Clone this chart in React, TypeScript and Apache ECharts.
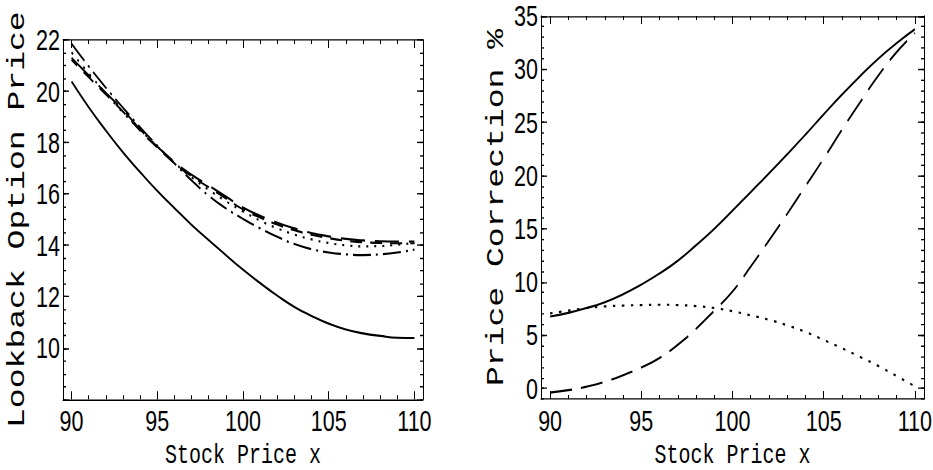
import React, { useEffect, useRef } from "react";
import * as echarts from "echarts";

// ---------- data ----------
const stockPrice = [90, 91, 92, 93, 94, 95, 96, 97, 98, 99, 100, 101, 102, 103, 104, 105, 106, 107, 108, 109, 110];

// Left panel: lookback option prices
const lookbackBase = [20.38, 19.38, 18.47, 17.62, 16.85, 16.12, 15.45, 14.8, 14.2, 13.62, 13.05, 12.53, 12.04, 11.6, 11.25, 10.95, 10.72, 10.57, 10.47, 10.4, 10.39];
const lookbackLongDash = [21.3, 20.62, 19.94, 19.27, 18.52, 17.84, 17.25, 16.75, 16.33, 15.9, 15.47, 15.15, 14.88, 14.66, 14.48, 14.35, 14.25, 14.19, 14.16, 14.15, 14.15];
const lookbackDash = [21.22, 20.55, 19.88, 19.21, 18.47, 17.81, 17.2, 16.69, 16.26, 15.83, 15.4, 15.08, 14.81, 14.59, 14.41, 14.28, 14.18, 14.12, 14.09, 14.08, 14.08];
const lookbackDotted = [21.52, 20.7, 19.92, 19.17, 18.5, 17.85, 17.22, 16.65, 16.16, 15.72, 15.32, 14.96, 14.66, 14.42, 14.23, 14.09, 14.0, 13.96, 13.97, 14.02, 14.09];
const lookbackDashDot = [21.85, 20.97, 20.14, 19.36, 18.6, 17.88, 17.19, 16.53, 15.93, 15.44, 15.03, 14.66, 14.33, 14.05, 13.85, 13.72, 13.65, 13.62, 13.65, 13.72, 13.83];

// Right panel: price correction %
const correctionSolid = [6.75, 7.1, 7.55, 8.1, 8.85, 9.75, 10.8, 12.0, 13.45, 15.0, 16.7, 18.45, 20.2, 22.0, 23.85, 25.75, 27.6, 29.35, 31.0, 32.45, 33.75];
const correctionDashed = [-0.4, -0.17, 0.16, 0.62, 1.23, 1.97, 2.85, 4.1, 5.6, 7.3, 9.1, 11.45, 13.9, 16.4, 19.0, 21.6, 24.3, 26.9, 29.4, 31.6, 33.4];
const correctionDotted = [7.05, 7.3, 7.55, 7.7, 7.78, 7.83, 7.86, 7.83, 7.73, 7.55, 7.25, 6.86, 6.45, 5.92, 5.3, 4.55, 3.78, 2.95, 2.1, 1.15, 0.2];

// tick labels
const xLabels = [90, 95, 100, 105, 110];
const leftYLabels = [10, 12, 14, 16, 18, 20, 22];
const rightYLabels = [0, 5, 10, 15, 20, 25, 30, 35];

// ---------- layout ----------
const STRETCH = 1.35;
const W = 933;
const H = 470 / STRETCH;

// frames (unstretched px)
const L = { left: 63, top: 29.6, width: 360, height: 266.2 };
const R = { left: 541, top: 11.85, width: 383, height: 283.7 };
const X_MIN = 89.5;
const X_MAX = 110.5;
const LY_MIN = 8;
const LY_MAX = 22;
const RY_MIN = -1;
const RY_MAX = 35;

// tick-only grids aligned so that tick counting starts on round values
const lPx = L.width / (X_MAX - X_MIN);
const rPx = R.width / (X_MAX - X_MIN);
const LTx = { left: L.left + (90 - X_MIN) * lPx, top: L.top, width: 20 * lPx, height: L.height };
const RTx = { left: R.left + (90 - X_MIN) * rPx, top: R.top, width: 20 * rPx, height: R.height };
const ryPx = R.height / (RY_MAX - RY_MIN);
const RTy = { left: R.left, top: R.top, width: R.width, height: 35 * ryPx };

const gridOf = (g: any) => ({ ...g, containLabel: false, outerBoundsMode: "none" });

const pairs = (ys: number[]) => stockPrice.map((x, i) => [x, ys[i]]);

const tickFont = { color: "#000", fontFamily: "Liberation Sans, Arial, sans-serif", fontSize: 21.5 };
const nameFont = { color: "#000", fontFamily: "Liberation Mono, Courier New, monospace" };
const black = { color: "#000", width: 1 };
const noSplit = { show: false };

function frameAxis(gridIndex: number, position: string, min: number, max: number, extra: any = {}) {
  return {
    type: "value",
    gridIndex,
    position,
    min,
    max,
    splitLine: noSplit,
    axisLine: { show: true, onZero: false, lineStyle: black },
    axisTick: { show: false },
    axisLabel: { show: false },
    ...extra,
  };
}

function tickAxis(gridIndex: number, position: string, min: number, max: number, interval: number, length: number) {
  return {
    type: "value",
    gridIndex,
    position,
    min,
    max,
    interval,
    splitLine: noSplit,
    axisLine: { show: false, onZero: false },
    axisTick: { show: true, inside: true, length, lineStyle: black },
    axisLabel: { show: false },
  };
}

const hidden = (gridIndex: number) => ({ type: "value", gridIndex, show: false, min: 0, max: 1 });

function line(data: number[], xIdx: number, yIdx: number, type: any, dashOffset = 0, width = 1.6) {
  return {
    type: "line",
    xAxisIndex: xIdx,
    yAxisIndex: yIdx,
    data: pairs(data),
    smooth: true,
    showSymbol: false,
    symbol: "none",
    lineStyle: { color: "#000", width, type, dashOffset, cap: "butt" },
    silent: true,
  };
}

export default function App() {
  const ref = useRef<HTMLDivElement>(null);

  useEffect(() => {
    if (!ref.current) return;
    const chart = echarts.init(ref.current, null, { renderer: "svg", width: W, height: H });

    const xName = {
      name: "Stock Price x",
      nameLocation: "middle",
      nameGap: 28.5,
      nameTextStyle: { ...nameFont, fontSize: 20, lineHeight: 18 },
    };
    const xLabelOpt = (vals: number[]) => ({ show: true, customValues: vals, margin: 5, ...tickFont });
    const yLabelOpt = (vals: number[]) => ({ show: true, customValues: vals, margin: 3, ...tickFont });

    const option: any = {
      animation: false,
      backgroundColor: "#fff",
      // 0: left frame, 1: left x-tick grid, 2: right frame, 3: right x-tick grid, 4: right y-tick grid
      grid: [L, LTx, R, RTx, RTy].map(gridOf),
      xAxis: [
        // 0 left frame bottom (labels + title)
        frameAxis(0, "bottom", X_MIN, X_MAX, { axisLabel: xLabelOpt(xLabels), ...xName }),
        // 1 left frame top
        frameAxis(0, "top", X_MIN, X_MAX),
        // 2-5 left x ticks
        tickAxis(1, "bottom", 90, 110, 1, 3),
        tickAxis(1, "bottom", 90, 110, 5, 6),
        tickAxis(1, "top", 90, 110, 1, 3),
        tickAxis(1, "top", 90, 110, 5, 6),
        // 6 right frame bottom
        frameAxis(2, "bottom", X_MIN, X_MAX, { axisLabel: xLabelOpt(xLabels), ...xName }),
        // 7 right frame top
        frameAxis(2, "top", X_MIN, X_MAX),
        // 8-11 right x ticks
        tickAxis(3, "bottom", 90, 110, 1, 3),
        tickAxis(3, "bottom", 90, 110, 5, 6),
        tickAxis(3, "top", 90, 110, 1, 3),
        tickAxis(3, "top", 90, 110, 5, 6),
        // 12 hidden for right y-tick grid
        hidden(4),
      ],
      yAxis: [
        // 0 left frame left (labels + title)
        frameAxis(0, "left", LY_MIN, LY_MAX, {
          axisLabel: yLabelOpt(leftYLabels),
          name: "Lookback Option Price",
          nameLocation: "middle",
          nameGap: 33,
          nameTextStyle: { ...nameFont, fontSize: 24.5 },
        }),
        // 1 left frame right
        frameAxis(0, "right", LY_MIN, LY_MAX),
        // 2-5 left y ticks (min 8 is a multiple of both intervals)
        tickAxis(0, "left", LY_MIN, LY_MAX, 0.5, 3),
        tickAxis(0, "left", LY_MIN, LY_MAX, 2, 6),
        tickAxis(0, "right", LY_MIN, LY_MAX, 0.5, 3),
        tickAxis(0, "right", LY_MIN, LY_MAX, 2, 6),
        // 6 hidden for left x-tick grid
        hidden(1),
        // 7 right frame left (labels + title)
        frameAxis(2, "left", RY_MIN, RY_MAX, {
          axisLabel: yLabelOpt(rightYLabels),
          name: "Price Correction %",
          nameLocation: "middle",
          nameGap: 32,
          nameTextStyle: { ...nameFont, fontSize: 24.5 },
        }),
        // 8 right frame right
        frameAxis(2, "right", RY_MIN, RY_MAX),
        // 9-10 right y minor ticks (min -1 is a multiple of 1)
        tickAxis(2, "left", RY_MIN, RY_MAX, 1, 3),
        tickAxis(2, "right", RY_MIN, RY_MAX, 1, 3),
        // 11 hidden for right x-tick grid
        hidden(3),
        // 12-13 right y major ticks on aligned grid 0..35
        tickAxis(4, "left", 0, 35, 5, 6),
        tickAxis(4, "right", 0, 35, 5, 6),
      ],
      series: [
        line(lookbackBase, 0, 0, "solid"),
        line(lookbackLongDash, 0, 0, [24, 10]),
        line(lookbackDash, 0, 0, [12, 8], 5),
        line(lookbackDotted, 0, 0, [2, 6]),
        line(lookbackDashDot, 0, 0, [18, 5, 2, 5]),
        line(correctionSolid, 6, 7, "solid"),
        line(correctionDashed, 6, 7, [22, 9]),
        line(correctionDotted, 6, 7, [2.5, 6.5]),
      ],
    };
    chart.setOption(option);
    return () => chart.dispose();
  }, []);

  return (
    <div style={{ position: "absolute", left: 0, top: 0, width: W, height: 470, overflow: "hidden", background: "#fff" }}>
      <div ref={ref} style={{ width: W, height: H, transform: `scaleY(${STRETCH})`, transformOrigin: "0 0" }} />
    </div>
  );
}
